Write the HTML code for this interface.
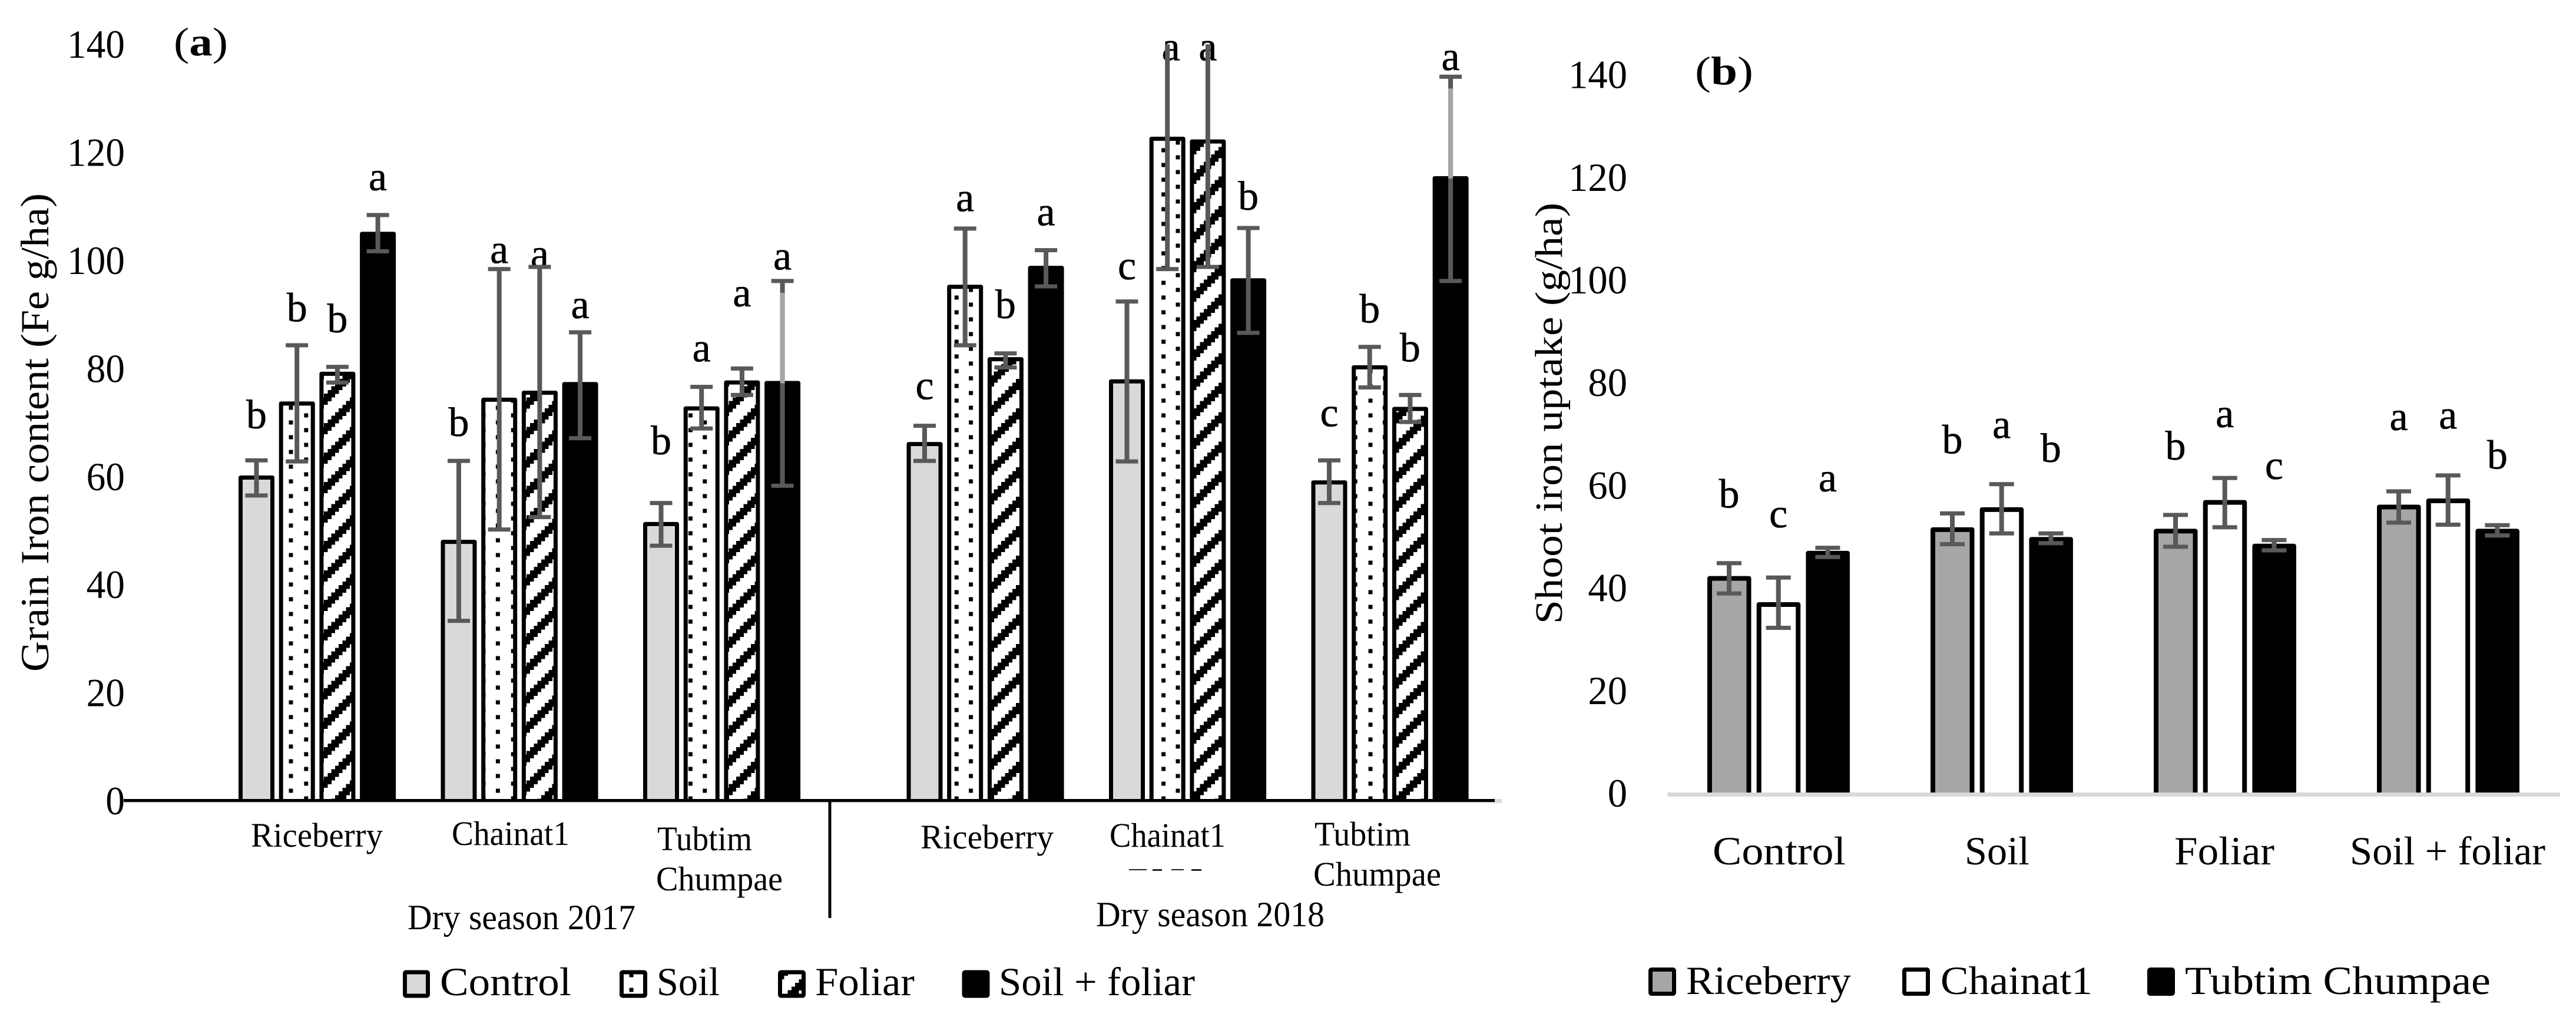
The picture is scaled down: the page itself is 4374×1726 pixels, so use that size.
<!DOCTYPE html>
<html lang="en">
<head>
<meta charset="utf-8">
<title>Grain iron content and shoot iron uptake</title>
<style>
html,body{margin:0;padding:0;background:#fff;}
svg{display:block;}
text{font-family:"Liberation Serif",serif;fill:#000;}
</style>
</head>
<body>
<svg id="figure" xmlns="http://www.w3.org/2000/svg" width="4374" height="1726" viewBox="0 0 4374 1726">
<defs>
<pattern id="dots" x="490.5" y="913.5" width="50.2" height="25" patternUnits="userSpaceOnUse">
<rect x="0" y="0" width="7" height="7" fill="#000" shape-rendering="crispEdges"/>
<rect x="26" y="13" width="7" height="7" fill="#000" shape-rendering="crispEdges"/>
</pattern>
<pattern id="hatch" x="0" y="0" width="50" height="50" patternUnits="userSpaceOnUse"></pattern>
</defs>
<rect x="0" y="0" width="4374" height="1726" fill="#fff"/>
<g id="chartA"></g>
<g id="chartB"></g>

<text x="295" y="94" font-size="68" textLength="92" lengthAdjust="spacingAndGlyphs">(<tspan font-weight="bold">a</tspan>)</text>
<text x="2878" y="143" font-size="68" textLength="99" lengthAdjust="spacingAndGlyphs">(<tspan font-weight="bold">b</tspan>)</text>

<text transform="translate(82 1140) rotate(-90)" font-size="68" textLength="812" lengthAdjust="spacingAndGlyphs">Grain Iron content (Fe g/ha)</text>
<text transform="translate(2652 1059) rotate(-90)" font-size="66" textLength="715" lengthAdjust="spacingAndGlyphs">Shoot iron uptake (g/ha)</text>

<text x="426" y="1437" font-size="58" textLength="224" lengthAdjust="spacingAndGlyphs">Riceberry</text>
<text x="767" y="1434" font-size="58" textLength="200" lengthAdjust="spacingAndGlyphs">Chainat1</text>
<text x="1116" y="1443" font-size="58" textLength="161" lengthAdjust="spacingAndGlyphs">Tubtim</text>
<text x="1114" y="1511" font-size="58" textLength="215" lengthAdjust="spacingAndGlyphs">Chumpae</text>
<text x="692" y="1577" font-size="60" textLength="387" lengthAdjust="spacingAndGlyphs">Dry season 2017</text>

<text x="1563" y="1440" font-size="58" textLength="226" lengthAdjust="spacingAndGlyphs">Riceberry</text>
<text x="1884" y="1437" font-size="58" textLength="197" lengthAdjust="spacingAndGlyphs">Chainat1</text>
<text x="2232" y="1435" font-size="58" textLength="163" lengthAdjust="spacingAndGlyphs">Tubtim</text>
<text x="2230" y="1503" font-size="58" textLength="217" lengthAdjust="spacingAndGlyphs">Chumpae</text>
<text x="1861" y="1572" font-size="60" textLength="388" lengthAdjust="spacingAndGlyphs">Dry season 2018</text>
<g fill="#222">
<rect x="1917" y="1475" width="30" height="2"/>
<rect x="1957" y="1475" width="16" height="3"/>
<rect x="1989" y="1475" width="21" height="2"/>
<rect x="2023" y="1475" width="17" height="3"/>
</g>

<rect x="1406.5" y="1359" width="5" height="199" fill="#000"/>

<g>
<rect x="687.5" y="1650" width="39" height="40" rx="2" fill="#d9d9d9" stroke="#000" stroke-width="7"/>
<text x="747" y="1689" font-size="68" textLength="223" lengthAdjust="spacingAndGlyphs">Control</text>
<rect x="1055.5" y="1650" width="40" height="40" rx="2" fill="url(#dots)" stroke="#000" stroke-width="7"/>
<text x="1115" y="1689" font-size="68" textLength="107" lengthAdjust="spacingAndGlyphs">Soil</text>
<rect x="1324.5" y="1650" width="40" height="40" rx="2" fill="url(#hatch)" stroke="#000" stroke-width="7"/>
<text x="1384" y="1689" font-size="68" textLength="169" lengthAdjust="spacingAndGlyphs">Foliar</text>
<rect x="1637" y="1650" width="40" height="40" rx="2" fill="#000" stroke="#000" stroke-width="7"/>
<text x="1696" y="1689" font-size="68" textLength="333" lengthAdjust="spacingAndGlyphs">Soil + foliar</text>
</g>

<g>
<rect x="2802.5" y="1645.5" width="40" height="41" rx="2" fill="#a6a6a6" stroke="#000" stroke-width="7"/>
<text x="2863" y="1687" font-size="68" textLength="280" lengthAdjust="spacingAndGlyphs">Riceberry</text>
<rect x="3233.5" y="1645.5" width="40" height="41" rx="2" fill="#fff" stroke="#000" stroke-width="7"/>
<text x="3295" y="1687" font-size="68" textLength="258" lengthAdjust="spacingAndGlyphs">Chainat1</text>
<rect x="3649.5" y="1645.5" width="40" height="41" rx="2" fill="#000" stroke="#000" stroke-width="7"/>
<text x="3710" y="1687" font-size="68" textLength="519" lengthAdjust="spacingAndGlyphs">Tubtim Chumpae</text>
</g>

<text x="2908" y="1467" font-size="68" textLength="226" lengthAdjust="spacingAndGlyphs">Control</text>
<text x="3336" y="1467" font-size="68" textLength="110" lengthAdjust="spacingAndGlyphs">Soil</text>
<text x="3692" y="1467" font-size="68" textLength="170" lengthAdjust="spacingAndGlyphs">Foliar</text>
<text x="3990" y="1467" font-size="68" textLength="332" lengthAdjust="spacingAndGlyphs">Soil + foliar</text>
</svg>

<script>
// Chart (a): grain iron content, six variety groups across two seasons
const ticksA = [0, 20, 40, 60, 80, 100, 120, 140];
const controlA = [60.2, 48.3, 51.6, 66.4, 78, 59.3];
const soilA = [73.9, 74.6, 73, 95.5, 122.9, 80.6];
const foliarA = [79.4, 75.9, 77.8, 82.1, 122.4, 72.9];
const bothA = [105.3, 77.5, 77.7, 99, 96.7, 115.6];
const controlHiA = [63, 62.9, 55.1, 69.4, 92.4, 63];
const controlLoA = [56.5, 33.3, 47.2, 62.9, 62.8, 55.1];
const soilHiA = [84.3, 98.4, 76.6, 105.9, 142, 84];
const soilLoA = [62.8, 50.2, 68.9, 84.3, 98.4, 76.5];
const foliarHiA = [80.3, 98.8, 80, 82.8, 142, 75.1];
const foliarLoA = [77.4, 52.5, 75.1, 80.2, 98.8, 70.1];
const bothHiA = [108.4, 86.7, 96.2, 101.9, 106, 134];
const bothLoA = [101.7, 67.1, 58.3, 95.2, 86.6, 96.2];
const controlLettersA = ['b', 'b', 'b', 'c', 'c', 'c'];
const soilLettersA = ['b', 'a', 'a', 'a', 'a', 'b'];
const foliarLettersA = ['b', 'a', 'a', 'b', 'a', 'b'];
const bothLettersA = ['a', 'a', 'a', 'a', 'b', 'a'];
const controlLetterLevelA = [68.9, 67.5, 64.1, 74.3, 96.5, 69.3];
const soilLetterLevelA = [88.7, 99.5, 81.3, 109.1, 137, 88.5];
const foliarLetterLevelA = [86.7, 98.7, 91.5, 89.3, 137, 81.3];
const bothLetterLevelA = [113, 89.3, 98.3, 106.5, 109.4, 135.2];

// Chart (b): shoot iron uptake, four treatments
const ticksB = [0, 20, 40, 60, 80, 100, 120, 140];
const riceberryB = [42.3, 51.8, 51.5, 56.2];
const chainatB = [37.2, 55.7, 57.1, 57.4];
const tubtimB = [47.2, 49.9, 48.6, 51.5];
const riceberryHiB = [44.8, 54.5, 54.2, 58.8];
const riceberryLoB = [38.9, 48.5, 48, 52.7];
const chainatHiB = [42, 60.2, 61.4, 61.9];
const chainatLoB = [32.2, 50.6, 51.8, 52.3];
const tubtimHiB = [47.8, 50.6, 49.3, 52.2];
const tubtimLoB = [46, 48.7, 47.3, 50.2];
const riceberryLettersB = ['b', 'b', 'b', 'a'];
const chainatLettersB = ['c', 'a', 'a', 'a'];
const tubtimLettersB = ['a', 'b', 'c', 'b'];
const riceberryLetterLevelB = [55.6, 66.2, 65, 70.7];
const chainatLetterLevelB = [51.8, 69.2, 71.3, 71];
const tubtimLetterLevelB = [58.8, 64.5, 61.2, 63.2];

const NS = 'http://www.w3.org/2000/svg';
const AXIS_MAX = 140;

function mk(tag, parent, attrs) {
  const el = document.createElementNS(NS, tag);
  for (const k in attrs) el.setAttribute(k, attrs[k]);
  parent.appendChild(el);
  return el;
}

// hatch pattern: stair-stepped diagonal band
const hatch = document.getElementById('hatch');
for (let k = 0; k < 8; k++) {
  const hx = k * 6.25;
  const hy = (((18 - hx) % 50) + 50) % 50;
  for (const shift of [0, -50]) {
    mk('rect', hatch, {x: hx, y: hy + shift, width: 6.5, height: 19, fill: '#000', 'shape-rendering': 'crispEdges'});
  }
}

// axis functions
const y0A = 1359, unitA = 9.17, y0B = 1346, unitB = 8.71;
function yA(v) { return y0A - v * unitA; }
function yB(v) { return y0B - v * unitB; }
function xA(g, s) { return 405 + g * 343.5 + (g >= 3 ? 104 : 0) + s * 68.7; }
function xB(g, s) { return 2899 + g * 379 + s * 83.7; }

// bars have an outline on the top and sides only; the baseline stays open
function drawBar(parent, x, w, yTop, yBase, fill, sw) {
  const d = 'M' + (x + sw / 2) + ' ' + yBase + ' V' + (yTop + sw / 2) + ' H' + (x + w - sw / 2) + ' V' + yBase;
  const el = mk('path', parent, {d: d, fill: fill, stroke: '#000', 'stroke-width': sw, 'stroke-linejoin': 'round'});
  
  
}

function drawError(parent, cx, capW, yHi, yLo, hasTopCap, yFade) {
  const stem = mk('rect', parent, {x: cx - 4, y: yHi, width: 8, height: yLo - yHi, fill: '#595959'});
  
  
  if (yFade !== null) {
    const fade = mk('rect', parent, {x: cx - 4, y: yHi + 20, width: 8, height: yFade + 4 - yHi - 20, fill: '#a6a6a6'});
    
    
  }
  if (hasTopCap) {
    const top = mk('rect', parent, {x: cx - capW / 2, y: yHi - 3.5, width: capW, height: 7, fill: '#595959'});
    
    
  }
  const low = mk('rect', parent, {x: cx - capW / 2, y: yLo - 3.5, width: capW, height: 7, fill: '#595959'});
  
  
}

function drawLetter(parent, cx, y, ch) {
  const t = mk('text', parent, {x: cx, y: y, 'font-size': 70, 'text-anchor': 'middle', stroke: '#000', 'stroke-width': 0.6});
  t.textContent = ch;
  
  
}

function drawTick(parent, right, y, value, perChar) {
  const s = String(value);
  const len = s.length * perChar;
  const t = mk('text', parent, {x: right - len, y: y, 'font-size': 68, textLength: len, lengthAdjust: 'spacingAndGlyphs'});
  t.textContent = s;
  
  
}

// ---- chart (a)
const gA = document.getElementById('chartA');
ticksA.forEach(function (v) { drawTick(gA, 212, yA(v) + 23, v, 32.7); });

const seriesA = [
  {vals: controlA, hi: controlHiA, lo: controlLoA, letters: controlLettersA, lv: controlLetterLevelA, fill: '#d9d9d9'},
  {vals: soilA, hi: soilHiA, lo: soilLoA, letters: soilLettersA, lv: soilLetterLevelA, fill: 'url(#dots)'},
  {vals: foliarA, hi: foliarHiA, lo: foliarLoA, letters: foliarLettersA, lv: foliarLetterLevelA, fill: 'url(#hatch)'},
  {vals: bothA, hi: bothHiA, lo: bothLoA, letters: bothLettersA, lv: bothLetterLevelA, fill: '#000'}
];
seriesA.forEach(function (sr, s) {
  sr.vals.forEach(function (v, g) {
    drawBar(gA, xA(g, s), 61, yA(v), y0A, sr.fill, 7);
  });
});

const axisGreyA = mk('rect', gA, {x: 210, y: 1356, width: 2340, height: 7, fill: '#d9d9d9'});


const axisA = mk('rect', gA, {x: 210, y: 1356, width: 2328, height: 5, fill: '#000'});



// letters sit under the error bars: clipped stems run over the top letters
seriesA.forEach(function (sr, s) {
  sr.vals.forEach(function (v, g) {
    const nudge = (sr.hi[g] >= AXIS_MAX && s === 1) ? 6 : 0;
    drawLetter(gA, xA(g, s) + 30.5 + nudge, yA(sr.lv[g]), sr.letters[g]);
  });
});
seriesA.forEach(function (sr, s) {
  sr.vals.forEach(function (v, g) {
    const cx = xA(g, s) + 30.5;
    const clipped = sr.hi[g] >= AXIS_MAX;
    const hi = Math.min(sr.hi[g], AXIS_MAX);
    const fade = (s === 3 && hi - v > 15) ? yA(v) : null;
    drawError(gA, cx, 38, yA(hi), yA(sr.lo[g]), !clipped, fade);
  });
});

// ---- chart (b)
const gB = document.getElementById('chartB');
ticksB.forEach(function (v) { drawTick(gB, 2763, yB(v) + 23, v, 33.3); });

const seriesB = [
  {vals: riceberryB, hi: riceberryHiB, lo: riceberryLoB, letters: riceberryLettersB, lv: riceberryLetterLevelB, fill: '#a6a6a6'},
  {vals: chainatB, hi: chainatHiB, lo: chainatLoB, letters: chainatLettersB, lv: chainatLetterLevelB, fill: '#fff'},
  {vals: tubtimB, hi: tubtimHiB, lo: tubtimLoB, letters: tubtimLettersB, lv: tubtimLetterLevelB, fill: '#000'}
];
seriesB.forEach(function (sr, s) {
  sr.vals.forEach(function (v, g) {
    drawBar(gB, xB(g, s), 74.5, yB(v), y0B - 1, sr.fill, 8);
  });
});

const axisB = mk('rect', gB, {x: 2831.5, y: 1345, width: 1515.5, height: 7, fill: '#d9d9d9'});



seriesB.forEach(function (sr, s) {
  sr.vals.forEach(function (v, g) {
    const cx = xB(g, s) + 37;
    drawError(gB, cx, 42, yB(sr.hi[g]), yB(sr.lo[g]), true, null);
    drawLetter(gB, cx, yB(sr.lv[g]), sr.letters[g]);
  });
});
</script>
</body>
</html>
